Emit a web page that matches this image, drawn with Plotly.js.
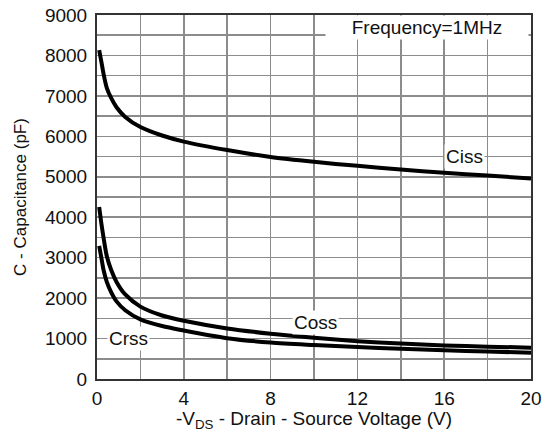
<!DOCTYPE html>
<html><head><meta charset="utf-8">
<script src="https://cdn.plot.ly/plotly-3.0.1.min.js"></script>
<style>html,body{margin:0;padding:0;background:#fff}#chart{width:544px;height:432px}</style>
</head><body><div id="chart"></div>
<script>
const vds  = [0.1, 0.2, 0.3, 0.45, 0.65, 0.9, 1.3, 2, 3, 4, 6, 8, 10, 12, 14, 16, 18, 20];
const ciss = [8130, 7850, 7550, 7200, 6950, 6720, 6480, 6230, 6020, 5870, 5660, 5490, 5370, 5270, 5180, 5100, 5030, 4960];
const coss = [4250, 3850, 3500, 3040, 2700, 2400, 2090, 1790, 1570, 1440, 1250, 1120, 1020, 935, 875, 830, 800, 775];
const crss = [3290, 3000, 2700, 2400, 2150, 1920, 1700, 1475, 1310, 1200, 1010, 900, 840, 790, 750, 710, 680, 650];
const xTicks = [0, 4, 8, 12, 16, 20];
const yTicks = [0, 1000, 2000, 3000, 4000, 5000, 6000, 7000, 8000, 9000];

const font = "Liberation Sans, Arial, sans-serif";
const lineStyle = {color: '#000', width: 4, shape: 'spline', smoothing: 0.8};
const traces = [
  {x: vds, y: ciss, name: 'Ciss', mode: 'lines', line: lineStyle},
  {x: vds, y: coss, name: 'Coss', mode: 'lines', line: lineStyle},
  {x: vds, y: crss, name: 'Crss', mode: 'lines', line: lineStyle}
];
const gridCol = '#8c8c8c';
const layout = {
  width: 544, height: 432,
  margin: {l: 97, r: 13, t: 15, b: 53},
  paper_bgcolor: '#fff', plot_bgcolor: '#fff',
  showlegend: false,
  font: {family: font, size: 19, color: '#111'},
  xaxis: {
    range: [0, 20], tickvals: xTicks, ticktext: xTicks.map(String),
    showgrid: true, gridcolor: gridCol, gridwidth: 1.5,
    minor: {dtick: 2, showgrid: true, gridcolor: gridCol, gridwidth: 1.5},
    showline: true, linecolor: '#333', linewidth: 2, mirror: true,
    zeroline: false, ticks: '', ticklabelstandoff: 1,
    tickfont: {size: 19},
    title: {text: '-V<sub>DS</sub> - Drain - Source Voltage (V)', font: {size: 19}, standoff: 5}
  },
  yaxis: {
    range: [0, 9000], tickvals: yTicks, ticktext: yTicks.map(String),
    showgrid: true, gridcolor: gridCol, gridwidth: 1.5,
    minor: {dtick: 500, showgrid: true, gridcolor: gridCol, gridwidth: 1.5},
    showline: true, linecolor: '#333', linewidth: 2, mirror: true,
    zeroline: false, ticks: '', ticklabelstandoff: 4,
    tickfont: {size: 19},
    title: {text: 'C - Capacitance (pF)', font: {size: 17}, standoff: 14}
  },
  annotations: [
    {xref: 'paper', yref: 'paper', x: 0.5253, y: 1, xanchor: 'left', yanchor: 'top',
     text: 'Frequency=1MHz', showarrow: false, bgcolor: '#fff', width: 200, height: 21,
     font: {size: 19, color: '#111'}},
    {xref: 'x', yref: 'y', x: 16.95, y: 5490, text: 'Ciss', showarrow: false, bgcolor: '#fff',
     font: {size: 19, color: '#111'}},
    {xref: 'x', yref: 'y', x: 10.05, y: 1385, text: 'Coss', showarrow: false, bgcolor: '#fff',
     font: {size: 19, color: '#111'}},
    {xref: 'x', yref: 'y', x: 1.43, y: 1010, text: 'Crss', showarrow: false, bgcolor: '#fff',
     font: {size: 19, color: '#111'}}
  ]
};
Plotly.newPlot('chart', traces, layout, {staticPlot: true, displayModeBar: false});
</script></body></html>
